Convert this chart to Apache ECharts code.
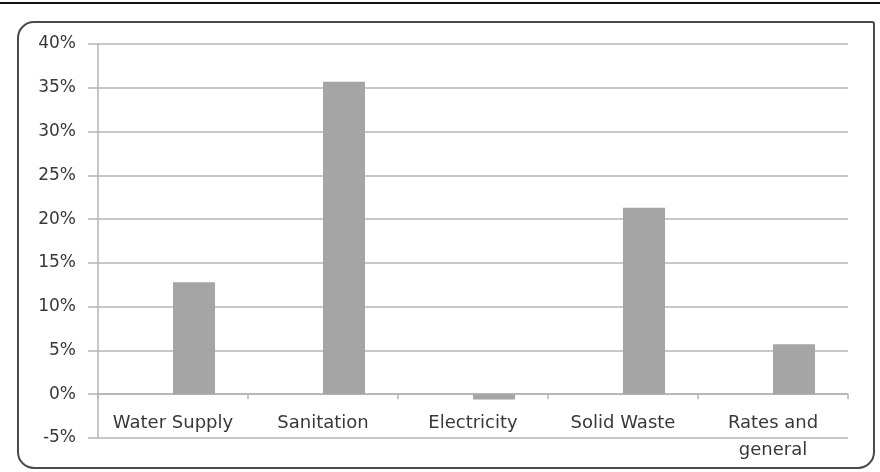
<!DOCTYPE html>
<html>
<head>
<meta charset="utf-8">
<script src="https://cdn.jsdelivr.net/npm/echarts@6/dist/echarts.min.js"></script>
<style>
  html, body { margin: 0; padding: 0; background: #fff; }
  #chart { width: 880px; height: 472px; }
</style>
</head>
<body>
<div id="chart"></div>
<script>
// Share of spending by service (percent)
const categories = ['Water Supply', 'Sanitation', 'Electricity', 'Solid Waste', 'Rates and\ngeneral'];
const values = [12.8, 35.7, -0.6, 21.3, 5.7];
// Empty companion series keeps the bars in the right half of each slot
const emptySlot = ['-', '-', '-', '-', '-'];
const yTicks = { min: -5, max: 40, step: 5 };

const textColor = '#383838';
const gridColor = '#b4b4b4';
const font = 'DejaVu Sans';

const chart = echarts.init(document.getElementById('chart'), null, { renderer: 'canvas' });

chart.setOption({
  animation: false,
  backgroundColor: '#ffffff',
  graphic: [
    {
      type: 'line',
      shape: { x1: 0, y1: 3, x2: 880, y2: 3 },
      style: { stroke: '#111', lineWidth: 2 },
      z: 10
    },
    {
      type: 'rect',
      shape: { x: 18, y: 22, width: 856, height: 446, r: [16, 2, 16, 16] },
      style: { fill: 'none', stroke: '#4a4a4a', lineWidth: 2 },
      z: 10
    }
  ],
  grid: { left: 98, right: 32, top: 44, bottom: 34, containLabel: false, outerBoundsMode: 'none' },
  xAxis: {
    type: 'category',
    data: categories,
    axisLine: { show: true, onZero: true, lineStyle: { color: gridColor, width: 1.5 } },
    axisTick: { show: true, alignWithLabel: false, length: 5, lineStyle: { color: gridColor, width: 1.5 } },
    axisLabel: {
      color: textColor,
      fontFamily: font,
      fontSize: 18,
      margin: -28,
      lineHeight: 27,
      verticalAlign: 'top',
      interval: 0
    },
    splitLine: { show: false }
  },
  yAxis: {
    type: 'value',
    min: yTicks.min,
    max: yTicks.max,
    interval: yTicks.step,
    axisLine: { show: true, lineStyle: { color: gridColor, width: 1.5 } },
    axisTick: { show: true, length: 10, lineStyle: { color: gridColor, width: 1.5 } },
    axisLabel: {
      color: textColor,
      fontFamily: font,
      fontSize: 17,
      margin: 22,
      formatter: '{value}%'
    },
    splitLine: { show: true, lineStyle: { color: gridColor, width: 1.5 } }
  },
  series: [
    {
      type: 'bar',
      data: emptySlot,
      barWidth: 42,
      barGap: '0%',
      itemStyle: { color: '#a5a5a5' }
    },
    {
      type: 'bar',
      data: values,
      barWidth: 42,
      barGap: '0%',
      itemStyle: { color: '#a5a5a5' }
    }
  ]
});
</script>
</body>
</html>
